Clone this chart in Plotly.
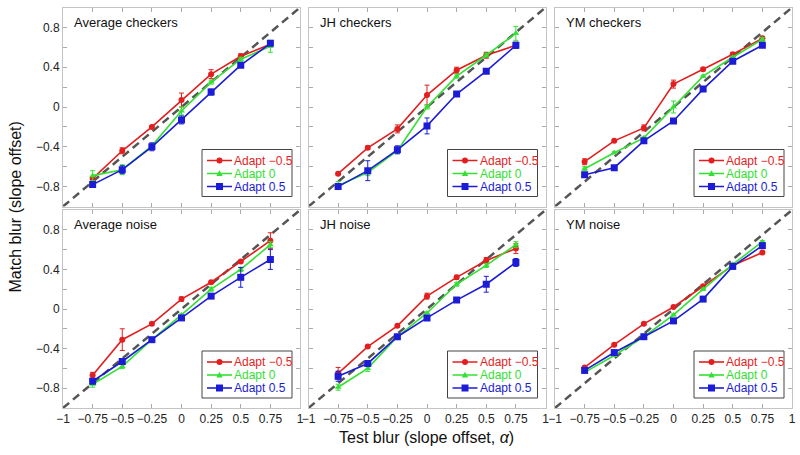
import plotly.graph_objects as go

# ---------------- data ----------------
alpha = [-0.75, -0.5, -0.25, 0, 0.25, 0.5, 0.75]

series_names = ["Adapt −0.5", "Adapt 0", "Adapt 0.5"]
panel_titles = ["Average checkers", "JH checkers", "YM checkers",
                "Average noise", "JH noise", "YM noise"]

avg_chk_m05 = [-0.72, -0.44, -0.20, 0.07, 0.33, 0.51, 0.63]
avg_chk_a0 = [-0.69, -0.63, -0.39, -0.04, 0.25, 0.48, 0.61]
avg_chk_p05 = [-0.78, -0.63, -0.40, -0.13, 0.15, 0.42, 0.64]
avg_chk_m05_err = [0.02, 0.03, 0.015, 0.07, 0.045, 0.025, 0.025]
avg_chk_a0_err = [0.05, 0.05, 0.02, 0.04, 0.02, 0.02, 0.06]
avg_chk_p05_err = [0.02, 0.04, 0.04, 0.04, 0.03, 0.02, 0.02]

jh_chk_m05 = [-0.67, -0.41, -0.22, 0.12, 0.37, 0.52, 0.62]
jh_chk_a0 = [-0.79, -0.66, -0.44, 0.00, 0.31, 0.52, 0.74]
jh_chk_p05 = [-0.80, -0.64, -0.43, -0.19, 0.13, 0.36, 0.62]
jh_chk_m05_err = [0.01, 0.015, 0.04, 0.10, 0.03, 0.03, 0.03]
jh_chk_a0_err = [0.04, 0.03, 0.03, 0.02, 0.02, 0.02, 0.07]
jh_chk_p05_err = [0.02, 0.10, 0.04, 0.08, 0.015, 0.015, 0.03]

ym_chk_m05 = [-0.55, -0.34, -0.21, 0.23, 0.38, 0.53, 0.69]
ym_chk_a0 = [-0.62, -0.46, -0.31, 0.00, 0.31, 0.50, 0.68]
ym_chk_p05 = [-0.68, -0.61, -0.34, -0.14, 0.18, 0.46, 0.62]
ym_chk_m05_err = [0.03, 0.01, 0.03, 0.04, 0.01, 0.01, 0.02]
ym_chk_a0_err = [0.02, 0.01, 0.01, 0.06, 0.01, 0.01, 0.02]
ym_chk_p05_err = [0.01, 0.01, 0.01, 0.01, 0.01, 0.01, 0.01]

avg_noi_m05 = [-0.67, -0.31, -0.15, 0.10, 0.27, 0.48, 0.69]
avg_noi_a0 = [-0.76, -0.58, -0.31, -0.06, 0.20, 0.40, 0.65]
avg_noi_p05 = [-0.73, -0.53, -0.31, -0.09, 0.13, 0.32, 0.50]
avg_noi_m05_err = [0.03, 0.11, 0.01, 0.02, 0.01, 0.01, 0.08]
avg_noi_a0_err = [0.03, 0.02, 0.01, 0.01, 0.02, 0.02, 0.03]
avg_noi_p05_err = [0.02, 0.02, 0.01, 0.01, 0.01, 0.10, 0.10]

jh_noi_m05 = [-0.65, -0.38, -0.17, 0.13, 0.32, 0.49, 0.61]
jh_noi_a0 = [-0.79, -0.60, -0.28, -0.04, 0.25, 0.44, 0.65]
jh_noi_p05 = [-0.68, -0.55, -0.28, -0.09, 0.09, 0.25, 0.47]
jh_noi_m05_err = [0.06, 0.01, 0.01, 0.03, 0.02, 0.03, 0.05]
jh_noi_a0_err = [0.03, 0.03, 0.01, 0.01, 0.02, 0.02, 0.03]
jh_noi_p05_err = [0.05, 0.02, 0.01, 0.01, 0.01, 0.08, 0.04]

ym_noi_m05 = [-0.59, -0.36, -0.15, 0.02, 0.23, 0.44, 0.57]
ym_noi_a0 = [-0.64, -0.47, -0.28, -0.06, 0.20, 0.45, 0.68]
ym_noi_p05 = [-0.62, -0.44, -0.28, -0.12, 0.10, 0.43, 0.64]
ym_noi_m05_err = [0.01, 0.01, 0.01, 0.01, 0.01, 0.01, 0.01]
ym_noi_a0_err = [0.01, 0.01, 0.01, 0.01, 0.01, 0.01, 0.01]
ym_noi_p05_err = [0.01, 0.01, 0.01, 0.01, 0.01, 0.01, 0.01]

x_tickvals = [-1, -0.75, -0.5, -0.25, 0, 0.25, 0.5, 0.75, 1]
x_ticktext = ["−1", "−0.75", "−0.5", "−0.25", "0", "0.25", "0.5", "0.75", "1"]
y_tickvals = [-1, -0.8, -0.6, -0.4, -0.2, 0, 0.2, 0.4, 0.6, 0.8, 1]
y_ticktext = ["", "−0.8", "", "−0.4", "", "0", "", "0.4", "", "0.8", ""]

panels = [
    (avg_chk_m05, avg_chk_a0, avg_chk_p05, avg_chk_m05_err, avg_chk_a0_err, avg_chk_p05_err),
    (jh_chk_m05, jh_chk_a0, jh_chk_p05, jh_chk_m05_err, jh_chk_a0_err, jh_chk_p05_err),
    (ym_chk_m05, ym_chk_a0, ym_chk_p05, ym_chk_m05_err, ym_chk_a0_err, ym_chk_p05_err),
    (avg_noi_m05, avg_noi_a0, avg_noi_p05, avg_noi_m05_err, avg_noi_a0_err, avg_noi_p05_err),
    (jh_noi_m05, jh_noi_a0, jh_noi_p05, jh_noi_m05_err, jh_noi_a0_err, jh_noi_p05_err),
    (ym_noi_m05, ym_noi_a0, ym_noi_p05, ym_noi_m05_err, ym_noi_a0_err, ym_noi_p05_err),
]

# ---------------- styles ----------------
W, H = 800, 455
colors = ["#e41e1e", "#33e033", "#1c1cd6"]
symbols = ["circle", "triangle-up", "square"]
msizes = [6, 6, 7]
FONT = "Liberation Sans, Arial, Helvetica, sans-serif"
frame_col = "#c4c4c4"

x_dom_px = [(63, 300), (308.5, 545.5), (555, 792)]
y_dom_px = [(7.5, 206.5), (210, 408)]

fig = go.Figure()
layout = dict(width=W, height=H, margin=dict(l=0, r=0, t=0, b=0, autoexpand=False),
              paper_bgcolor="white", plot_bgcolor="white",
              showlegend=False, font=dict(family=FONT, size=12, color="#222"))
shapes = []
annotations = []

for k in range(6):
    r, c = divmod(k, 3)
    idx = "" if k == 0 else str(k + 1)
    xa, ya = "x" + idx, "y" + idx
    xl, xr = x_dom_px[c]
    yt, yb = y_dom_px[r]
    xpx = (xr - xl) / 2.0
    ypx = (yb - yt) / 2.0
    layout["xaxis" + idx] = dict(
        domain=[xl / W, xr / W], range=[-1, 1], anchor=ya, automargin=False,
        tickmode="array", tickvals=x_tickvals, ticktext=x_ticktext, tickangle=0,
        showticklabels=(r == 1), ticks="inside", ticklen=4, tickcolor="#aaa",
        showline=True, linecolor=frame_col, linewidth=1, mirror="ticks",
        showgrid=False, zeroline=False, fixedrange=True,
        tickfont=dict(size=12, color="#222"))
    layout["yaxis" + idx] = dict(
        domain=[1 - yb / H, 1 - yt / H], range=[-1, 1], anchor=xa, automargin=False,
        tickmode="array", tickvals=y_tickvals, ticktext=y_ticktext,
        showticklabels=(c == 0), ticks="inside", ticklen=4, tickcolor="#aaa",
        showline=True, linecolor=frame_col, linewidth=1, mirror="ticks",
        showgrid=False, zeroline=False, fixedrange=True,
        tickfont=dict(size=12, color="#222"))

    # identity dashed line
    shapes.append(dict(type="line", xref=xa, yref=ya, x0=-1, y0=-1, x1=1, y1=1,
                       line=dict(color="#555555", width=2.5, dash="8px,5px"),
                       layer="below"))

    vals = panels[k]
    for s in range(3):
        fig.add_trace(go.Scatter(
            x=alpha, y=vals[s], xaxis=xa, yaxis=ya, mode="lines+markers",
            name=series_names[s],
            line=dict(color=colors[s], width=1.6),
            marker=dict(symbol=symbols[s], size=msizes[s], color=colors[s]),
            error_y=dict(type="data", array=vals[3 + s], color=colors[s],
                         thickness=1, width=2.5),
            showlegend=False))

    # panel title
    annotations.append(dict(text=panel_titles[k], xref=xa + " domain", yref=ya + " domain",
                            x=0, y=1, xanchor="left", yanchor="top", xshift=9, yshift=-5,
                            showarrow=False, font=dict(size=13, color="#111")))

    # legend box (drawn manually)
    bx0 = -1 + 139 / xpx
    bx1 = -1 + 229 / xpx
    by0 = -1 + 10 / ypx
    by1 = by0 + 47 / ypx
    shapes.append(dict(type="rect", xref=xa, yref=ya, x0=bx0, x1=bx1, y0=by0, y1=by1,
                       line=dict(color="#444", width=1), fillcolor="white", layer="above"))
    for s in range(3):
        ry = by1 - (11 + 13 * s) / ypx
        shapes.append(dict(type="line", xref=xa, yref=ya,
                           x0=bx0 + 5 / xpx, x1=bx0 + 30 / xpx, y0=ry, y1=ry,
                           line=dict(color=colors[s], width=1.6), layer="above"))
        mx = bx0 + 17.5 / xpx
        if s == 0:
            shapes.append(dict(type="circle", xref=xa, yref=ya, xsizemode="pixel",
                               ysizemode="pixel", xanchor=mx, yanchor=ry,
                               x0=-3, x1=3, y0=-3, y1=3, fillcolor=colors[s],
                               line=dict(color=colors[s], width=0), layer="above"))
        elif s == 1:
            shapes.append(dict(type="path", xref=xa, yref=ya, xsizemode="pixel",
                               ysizemode="pixel", xanchor=mx, yanchor=ry,
                               path="M -3.2,-2.4 L 3.2,-2.4 L 0,3.2 Z", fillcolor=colors[s],
                               line=dict(color=colors[s], width=0), layer="above"))
        else:
            shapes.append(dict(type="rect", xref=xa, yref=ya, xsizemode="pixel",
                               ysizemode="pixel", xanchor=mx, yanchor=ry,
                               x0=-3.5, x1=3.5, y0=-3.5, y1=3.5, fillcolor=colors[s],
                               line=dict(color=colors[s], width=0), layer="above"))
        annotations.append(dict(text=series_names[s], xref=xa, yref=ya,
                                x=bx0 + 30 / xpx, y=ry, xanchor="left", yanchor="middle",
                                showarrow=False, font=dict(size=12, color=colors[s])))

# axis titles
annotations.append(dict(text="Match blur (slope offset)", xref="paper", yref="paper",
                        x=15 / W, y=1 - 207.5 / H, xanchor="center", yanchor="middle",
                        textangle=-90, showarrow=False, font=dict(size=16, color="#111")))
annotations.append(dict(text="Test blur (slope offset, <i>α</i>)", xref="paper", yref="paper",
                        x=427 / W, y=1 - 437 / H, xanchor="center", yanchor="middle",
                        showarrow=False, font=dict(size=16, color="#111")))

layout["shapes"] = shapes
layout["annotations"] = annotations
fig.update_layout(**layout)
fig.write_html("out.html", config={"displayModeBar": False},
               post_script="document.body.style.margin='0';document.body.style.overflow='hidden';")
